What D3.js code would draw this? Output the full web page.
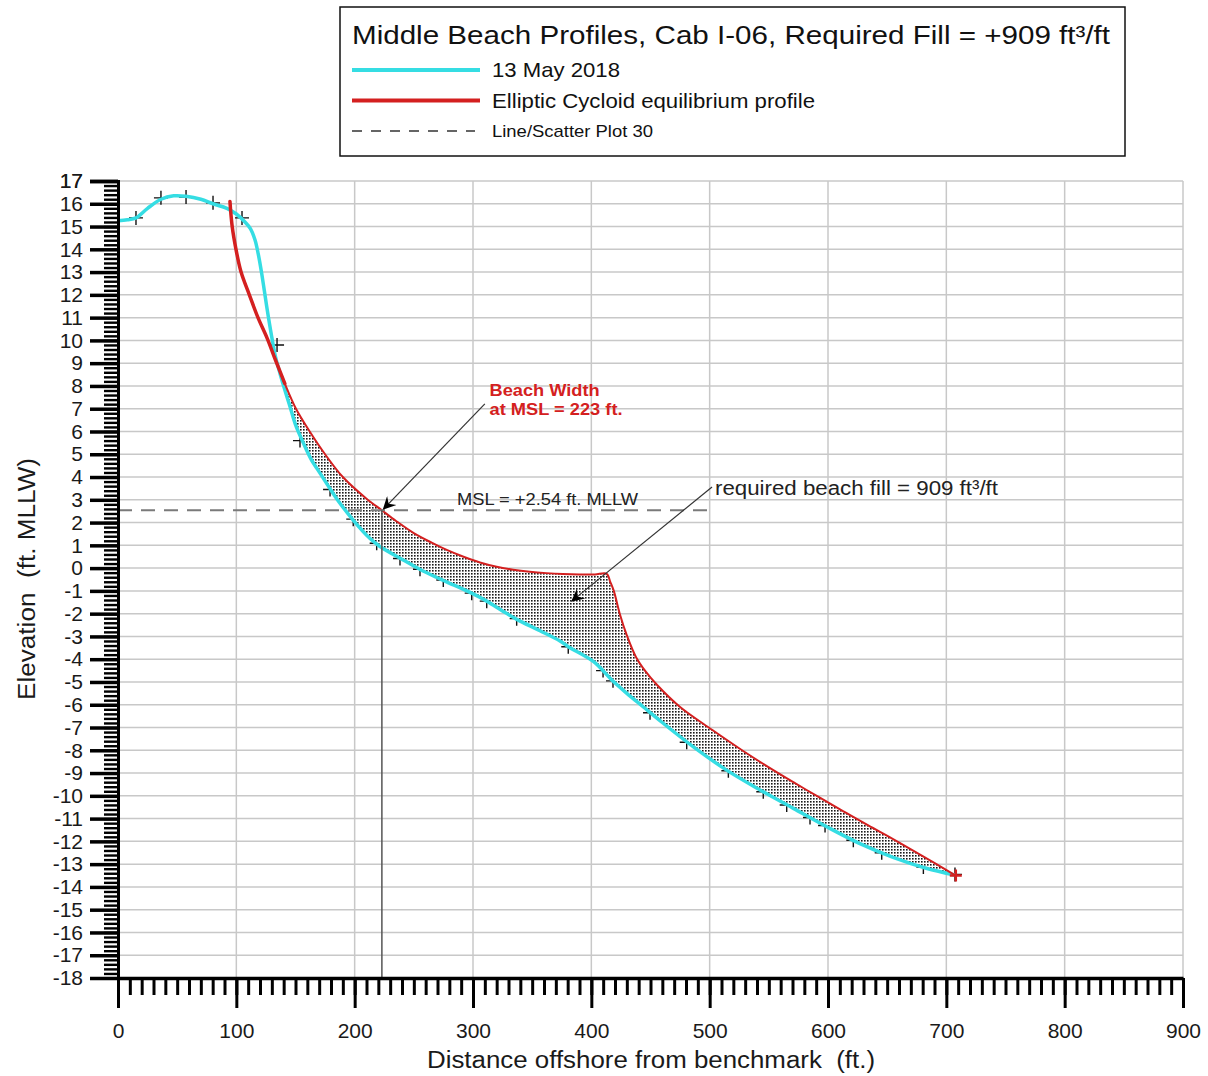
<!DOCTYPE html>
<html>
<head>
<meta charset="utf-8">
<script src="https://cdn.jsdelivr.net/npm/d3@7"></script>
<style>
  body { margin: 0; background: #fff; }
  text { font-family: "Liberation Sans", Arial, sans-serif; }
</style>
</head>
<body>
<div id="chart"></div>
<script>
const width = 1208;
const height = 1076;

// 13 May 2018 survey profile (distance ft, elevation ft MLLW)
const surveyLine = [
  [0, 15.25], [8, 15.3], [15.2, 15.38], [25, 15.8], [36.3, 16.2], [47, 16.35],
  [57.5, 16.33], [70, 16.2], [80.3, 16.0], [92, 15.8], [100, 15.55], [107.3, 15.2],
  [112, 14.9], [115.8, 14.41], [118.5, 13.8], [121.4, 12.95], [125.7, 11.48],
  [129.9, 10.16], [133, 9.3], [136.9, 8.55], [141, 7.82], [145.4, 7.09], [150, 6.3],
  [156.6, 5.5], [163, 4.8], [170.7, 4.17], [179, 3.5], [184.8, 3.05], [198.9, 2.1],
  [213, 1.3], [221.4, 0.95], [241, 0.36], [255, -0.05], [269, -0.4], [284, -0.75],
  [298.9, -1.1], [311.6, -1.45], [325.6, -1.9], [337, -2.25], [356.6, -2.75],
  [373.5, -3.2], [380.5, -3.45], [401.7, -4.1], [418, -4.95], [430, -5.5],
  [444, -6.1], [458, -6.7], [486, -7.84], [514, -8.86], [542.5, -9.74],
  [570.7, -10.55], [599, -11.36], [627, -12.1], [655, -12.7], [683, -13.18],
  [707.3, -13.48]
];

// survey point markers
const surveyPoints = [
  [15.2, 15.38], [36.3, 16.26], [57.5, 16.3], [80.3, 16.04], [104.8, 15.38],
  [134.4, 9.8], [153.8, 5.6], [179.2, 3.45], [198.8, 2.15], [218.6, 1.09],
  [238.3, 0.42], [255.2, -0.05], [274.9, -0.52], [298.9, -1.1], [311.6, -1.45],
  [336.9, -2.22], [380.5, -3.45], [409.9, -4.5], [418.3, -4.95], [449.6, -6.35],
  [480.6, -7.65], [515.8, -8.9], [545.3, -9.82], [565.1, -10.4], [584.8, -10.95],
  [597.5, -11.3], [621.4, -11.95], [645.4, -12.5], [680.6, -13.13], [707.3, -13.45]
];

// Elliptic Cycloid equilibrium profile
const equilibriumLine = [
  [94.6, 16.1], [96.5, 15.0], [99.7, 14.0], [104, 13.0], [111, 12.0],
  [118.3, 11.0], [126, 10.1], [133, 9.15], [141, 8.1], [150.4, 7.0],
  [162, 6.0], [175, 5.0], [190, 4.0], [210, 3.05], [223, 2.54],
  [235, 2.07], [249.6, 1.55], [265, 1.12], [277.8, 0.8], [292, 0.5],
  [305.9, 0.25], [320, 0.06], [334, -0.07], [348, -0.16], [362, -0.22],
  [376, -0.26], [390, -0.28], [403, -0.28], [413, -0.25], [416, -0.6],
  [419, -1.0], [424, -2.0], [430, -2.95], [437.7, -3.9], [446, -4.55],
  [455, -5.1], [475, -6.1], [502, -7.1], [528, -8.02], [550, -8.75],
  [570.7, -9.4], [592, -10.05], [613, -10.68], [634, -11.3], [655, -11.9],
  [680, -12.65], [708, -13.5]
];

const mslElevation = 2.54;
const mslExtent = [0, 500];
const beachWidthX = 223;

const xMajorTicks = d3.range(0, 901, 100);
const yMajorTicks = d3.range(-18, 18, 1);

const titleText = "Middle Beach Profiles, Cab I-06, Required Fill = +909 ft³/ft";
const legendItems = [
  { label: "13 May 2018", color: "#35dde3", width: 4, dash: null, size: 21, fit: 128 },
  { label: "Elliptic Cycloid equilibrium profile", color: "#d42020", width: 4, dash: null, size: 21, fit: 323 },
  { label: "Line/Scatter Plot 30", color: "#333", width: 1.5, dash: "10,9", size: 17, fit: 161 }
];

const notes = [
  { text: "Beach Width", x: 314, y: 7.56, color: "#d42020", bold: true, size: 17, fit: 110 },
  { text: "at MSL = 223 ft.", x: 314, y: 6.73, color: "#d42020", bold: true, size: 17, fit: 133 },
  { text: "MSL = +2.54 ft. MLLW", x: 286.5, y: 2.77, color: "#222", bold: false, size: 17, fit: 181 },
  { text: "required beach fill = 909 ft³/ft", x: 504.5, y: 3.21, color: "#222", bold: false, size: 20, fit: 283 }
];
const arrows = [
  { from: [310, 7.21], to: [224.5, 2.6] },
  { from: [502, 3.56], to: [383.7, -1.44] }
];

const fitText = (sel, w) => {
  sel.attr("textLength", w).attr("lengthAdjust", "spacingAndGlyphs");
};

const margin = { top: 181, right: 25, bottom: 98, left: 118 };
const x = d3.scaleLinear().domain([0, 900]).range([margin.left, width - margin.right]);
const y = d3.scaleLinear().domain([-18, 17]).range([height - margin.bottom, margin.top]);

const svg = d3.select("#chart").append("svg")
  .attr("width", width)
  .attr("height", height);

const defs = svg.append("defs");
const pattern = defs.append("pattern")
  .attr("id", "dots")
  .attr("width", 3)
  .attr("height", 3)
  .attr("patternUnits", "userSpaceOnUse");
pattern.append("rect").attr("width", 3).attr("height", 3).attr("fill", "#fff");
pattern.append("rect").attr("width", 1.6).attr("height", 1.6).attr("fill", "#1a1a1a");

defs.append("marker")
  .attr("id", "arrow")
  .attr("viewBox", "0 0 10 10")
  .attr("refX", 9)
  .attr("refY", 5)
  .attr("markerWidth", 17)
  .attr("markerHeight", 13)
  .attr("markerUnits", "userSpaceOnUse")
  .attr("orient", "auto")
  .append("path")
  .attr("d", "M0,0 L10,5 L0,10 L3.5,5 Z")
  .attr("fill", "#000");

// grid
const grid = svg.append("g").attr("stroke", "#c8c8c8").attr("stroke-width", 1.5);
grid.selectAll(".hgrid")
  .data(yMajorTicks)
  .join("line")
  .attr("x1", x(0)).attr("x2", x(900))
  .attr("y1", (d) => y(d)).attr("y2", (d) => y(d));
grid.selectAll(".vgrid")
  .data(xMajorTicks.filter((d) => d > 0))
  .join("line")
  .attr("x1", (d) => x(d)).attr("x2", (d) => x(d))
  .attr("y1", y(17)).attr("y2", y(-18));

// survey point crosses (drawn under the fill)
const crossSize = 7;
svg.append("g")
  .selectAll("path")
  .data(surveyPoints)
  .join("path")
  .attr("d", (d) => {
    const cx = x(d[0]), cy = y(d[1]);
    return `M${cx - crossSize},${cy}H${cx + crossSize}M${cx},${cy - crossSize}V${cy + crossSize}`;
  })
  .attr("stroke", "#111")
  .attr("stroke-width", 1.4)
  .attr("fill", "none");

const line = d3.line()
  .x((d) => x(d[0]))
  .y((d) => y(d[1]))
  .curve(d3.curveCatmullRom.alpha(0.5));

// required fill area between the two profiles
const fillStart = 131;
const topEdge = equilibriumLine.filter((d) => d[0] >= fillStart);
const bottomEdge = surveyLine.filter((d) => d[0] >= fillStart).slice().reverse();
const fillPath = line(topEdge) + "L" + line(bottomEdge).slice(1) + "Z";
svg.append("path")
  .attr("d", fillPath)
  .attr("fill", "url(#dots)")
  .attr("stroke", "none");

// survey profile
svg.append("path")
  .datum(surveyLine)
  .attr("d", line)
  .attr("fill", "none")
  .attr("stroke", "#35dde3")
  .attr("stroke-width", 3.5)
  .attr("stroke-linejoin", "round");

// equilibrium profile: thick on the upper beach, thin as fill outline
svg.append("path")
  .datum(equilibriumLine)
  .attr("d", line)
  .attr("fill", "none")
  .attr("stroke", "#d42020")
  .attr("stroke-width", 2)
  .attr("stroke-linejoin", "round");
svg.append("path")
  .datum(equilibriumLine.filter((d) => d[0] <= 142))
  .attr("d", line)
  .attr("fill", "none")
  .attr("stroke", "#d42020")
  .attr("stroke-width", 3.5)
  .attr("stroke-linecap", "round");

const lastRed = equilibriumLine[equilibriumLine.length - 1];
svg.append("path")
  .attr("d", `M${x(lastRed[0]) - 6},${y(lastRed[1])}H${x(lastRed[0]) + 6}M${x(lastRed[0])},${y(lastRed[1]) - 6}V${y(lastRed[1]) + 6}`)
  .attr("stroke", "#d42020")
  .attr("stroke-width", 2.5);

// MSL dashed line and beach width marker
svg.append("line")
  .attr("x1", x(mslExtent[0])).attr("x2", x(mslExtent[1]))
  .attr("y1", y(mslElevation)).attr("y2", y(mslElevation))
  .attr("stroke", "#7a7a7a")
  .attr("stroke-width", 2)
  .attr("stroke-dasharray", "14,9");
svg.append("line")
  .attr("x1", x(beachWidthX)).attr("x2", x(beachWidthX))
  .attr("y1", y(mslElevation)).attr("y2", y(-18))
  .attr("stroke", "#555")
  .attr("stroke-width", 1.5);

// annotations
svg.append("g")
  .selectAll("line")
  .data(arrows)
  .join("line")
  .attr("x1", (d) => x(d.from[0])).attr("y1", (d) => y(d.from[1]))
  .attr("x2", (d) => x(d.to[0])).attr("y2", (d) => y(d.to[1]))
  .attr("stroke", "#333")
  .attr("stroke-width", 1.2)
  .attr("marker-end", "url(#arrow)");

svg.append("g")
  .selectAll("text")
  .data(notes)
  .join("text")
  .attr("x", (d) => x(d.x))
  .attr("y", (d) => y(d.y))
  .attr("fill", (d) => d.color)
  .attr("font-size", (d) => d.size)
  .attr("font-weight", (d) => (d.bold ? "bold" : "normal"))
  .attr("textLength", (d) => d.fit)
  .attr("lengthAdjust", "spacingAndGlyphs")
  .text((d) => d.text);

// axes
const yAxis = svg.append("g")
  .attr("transform", `translate(${x(0)},0)`)
  .call(d3.axisLeft(y).tickValues(d3.range(-18, 17.01, 0.2)).tickSize(14).tickFormat(""));
yAxis.selectAll(".tick line").attr("stroke-width", 2.4).attr("stroke", "#000");
yAxis.select(".domain").remove();

const yMajor = svg.append("g")
  .attr("transform", `translate(${x(0)},0)`)
  .call(d3.axisLeft(y).tickValues(yMajorTicks.concat([17])).tickSize(28).tickPadding(7).tickFormat((d) => String(d)));
yMajor.selectAll(".tick line").attr("stroke-width", 3.5).attr("stroke", "#000");
yMajor.select(".domain").attr("stroke-width", 3).attr("stroke", "#000");
yMajor.selectAll(".tick text")
  .attr("font-size", 21)
  .attr("fill", "#1a1a1a")
  .style("font-family", "'Liberation Sans', Arial, sans-serif");

const xMinor = svg.append("g")
  .attr("transform", `translate(0,${y(-18)})`)
  .call(d3.axisBottom(x).tickValues(d3.range(0, 901, 10)).tickSize(17).tickFormat(""));
xMinor.selectAll(".tick line").attr("stroke-width", 3).attr("stroke", "#000");
xMinor.select(".domain").remove();

const xMajor = svg.append("g")
  .attr("transform", `translate(0,${y(-18)})`)
  .call(d3.axisBottom(x).tickValues(xMajorTicks).tickSize(30).tickPadding(15).tickSizeOuter(0));
xMajor.selectAll(".tick line").attr("stroke-width", 3).attr("stroke", "#000");
xMajor.select(".domain").attr("stroke-width", 3.5).attr("stroke", "#000");
xMajor.selectAll(".tick text")
  .attr("font-size", 21)
  .attr("fill", "#1a1a1a")
  .style("font-family", "'Liberation Sans', Arial, sans-serif");

svg.append("text")
  .attr("x", 651)
  .attr("y", 1068)
  .attr("text-anchor", "middle")
  .attr("font-size", 23)
  .attr("fill", "#1a1a1a")
  .style("white-space", "pre")
  .text("Distance offshore from benchmark  (ft.)")
  .call(fitText, 448);

svg.append("text")
  .attr("transform", "translate(35,579) rotate(-90)")
  .attr("text-anchor", "middle")
  .attr("font-size", 23)
  .attr("fill", "#1a1a1a")
  .style("white-space", "pre")
  .text("Elevation  (ft. MLLW)")
  .call(fitText, 242);

// legend
const legend = svg.append("g");
legend.append("rect")
  .attr("x", 340).attr("y", 7)
  .attr("width", 785).attr("height", 149)
  .attr("fill", "#fff")
  .attr("stroke", "#111")
  .attr("stroke-width", 1.5);
legend.append("text")
  .attr("x", 352).attr("y", 44)
  .attr("font-size", 26)
  .attr("fill", "#111")
  .text(titleText)
  .call(fitText, 758);
const legendRows = legend.selectAll(".row")
  .data(legendItems)
  .join("g")
  .attr("transform", (d, i) => `translate(0,${70 + i * 30.5})`);
legendRows.append("line")
  .attr("x1", 352).attr("x2", (d) => (d.dash ? 475 : 480))
  .attr("stroke", (d) => d.color)
  .attr("stroke-width", (d) => d.width)
  .attr("stroke-dasharray", (d) => d.dash);
legendRows.append("text")
  .attr("x", 492)
  .attr("dy", "0.35em")
  .attr("font-size", (d) => d.size)
  .attr("fill", "#111")
  .attr("textLength", (d) => d.fit)
  .attr("lengthAdjust", "spacingAndGlyphs")
  .text((d) => d.label);
</script>
</body>
</html>
